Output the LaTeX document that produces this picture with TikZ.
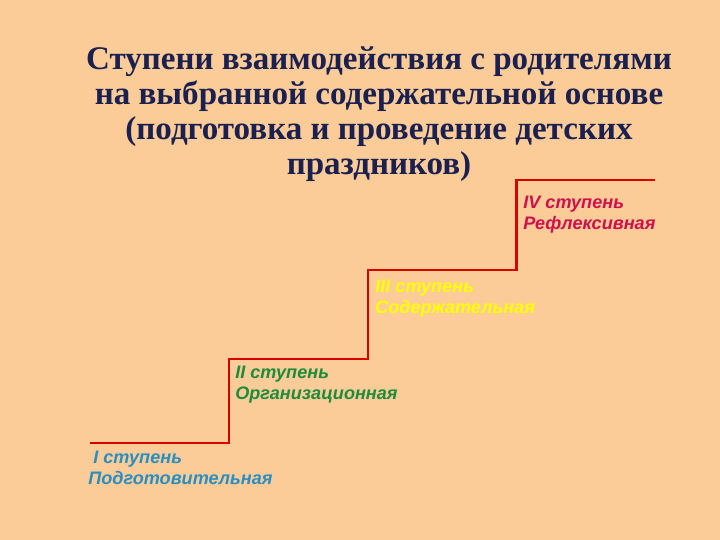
\documentclass[tikz,border=0pt]{standalone}
\usepackage{fontspec}
\setmainfont{Liberation Serif}
\setsansfont{Liberation Sans}
\usetikzlibrary{positioning}
\definecolor{peach}{HTML}{FBCB98}
\definecolor{navy}{HTML}{1A2050}
\definecolor{crimson}{HTML}{D0104C}
\definecolor{lemon}{HTML}{FFFF00}
\definecolor{leaf}{HTML}{1E8C3A}
\definecolor{sky}{HTML}{2A8FC0}
\tikzstyle{title} = [align=center, text=navy, font=\fontsize{18.8}{19.8}\selectfont\bfseries]
\tikzstyle{level} = [anchor=north west, align=left, inner sep=0pt, font=\fontsize{10.3}{12}\selectfont\sffamily\bfseries\itshape]
\tikzstyle{stair} = [draw=red!85!black, line width=1.7pt]

\begin{document}
\begin{tikzpicture}[x=0.02cm, y=-0.02cm]

    % Background
    \fill[peach] (0,0) rectangle (720,540);
    \useasboundingbox (0,0) rectangle (720,540);

    % Title
    \node (heading) at (379,114) [title] {Ступени взаимодействия с родителями\\на выбранной содержательной основе\\(подготовка и проведение детских\\праздников)};

    % Stairs
    \draw [stair] (90,443) -- (229,443) -- (229,359) -- (368,359) -- (368,270) -- (516,270) -- (516,180) -- (655,180);

    % Labels
    \node (stepI) at (88,451) [level, text=sky] {\ I ступень\\Подготовительная};
    \node (stepII) at (235,366) [level, text=leaf] {II ступень\\Организационная};
    \node (stepIII) at (375,280) [level, text=lemon] {III ступень\\Содержательная};
    \node (stepIV) at (523,196) [level, text=crimson] {IV ступень\\Рефлексивная};

\end{tikzpicture}
\end{document}
